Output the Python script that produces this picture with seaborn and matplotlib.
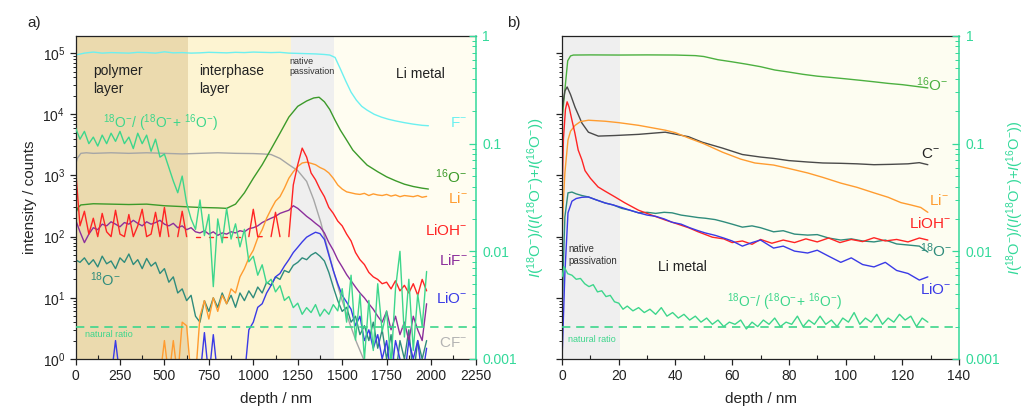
import numpy as np
import pandas as pd
import matplotlib
matplotlib.use("Agg")
import matplotlib.pyplot as plt
import seaborn as sns
from matplotlib.ticker import LogLocator, NullFormatter, MultipleLocator, FixedLocator

# ---------------- panel a: 0-2000 nm depth profile ----------------
depth_a = np.arange(0, 2000, 25)

ratio_a = [0.14, 0.11, 0.13, 0.10, 0.115, 0.095, 0.12, 0.10, 0.125, 0.105,
           0.13, 0.10, 0.115, 0.09, 0.125, 0.10, 0.12, 0.085, 0.11, 0.075,
           0.08, 0.06, 0.045, 0.035, 0.05, 0.028, 0.02, 0.016, 0.03, 0.014,
           0.022, 0.0047, 0.02, 0.012, 0.025, 0.013, 0.018, 0.011, 0.016, 0.008,
           0.009, 0.006, 0.0075, 0.005, 0.0055, 0.0042, 0.0048, 0.0035, 0.0038, 0.003,
           0.0033, 0.0026, 0.003, 0.0027, 0.0032, 0.0025, 0.0029, 0.0026, 0.0032, 0.0028,
           0.0045, 0.0022, 0.006, 0.0015, 0.004, 0.001, 0.0035, 0.0012, 0.005, 0.0018,
           0.0028, 0.0009, 0.0045, 0.01, 0.0016, 0.0055, 0.0012, 0.004, 0.002, 0.0065]

li_a = [0.5, 0.5, 0.5, 0.5, 0.5, 0.5, 0.5, 0.5, 0.5, 0.5,
        0.5, 0.5, 0.5, 0.5, 0.5, 0.5, 0.5, 0.5, 0.5, 0.5,
        2, 0.5, 2, 0.5, 4, 3.5, 0.5, 0.5, 5, 9,
        4.5, 10, 6, 11, 8, 14, 12, 22, 30, 45,
        60, 95, 130, 200, 280, 380, 450, 620, 900, 1150,
        1400, 1600, 1650, 1580, 1500, 1350, 1250, 1100, 900, 700,
        600, 540, 520, 500, 490, 510, 470, 500, 480, 470,
        490, 460, 480, 450, 470, 460, 450, 470, 440, 455]

lioh_a = [1300, 150, 260, 110, 200, 100, 240, 120, 100, 270,
          110, 100, 230, 100, 150, 280, 100, 110, 250, 100,
          300, 100, np.nan, 100, 260, 100, np.nan, 100, 100, np.nan,
          100, 100, np.nan, 100, 100, np.nan, 100, 100, np.nan, 100,
          280, 100, 100, np.nan, 100, 250, 100, np.nan, 100, 700,
          1500, 2800, 2000, 1100, 850, 600, 450, 300, 240, 180,
          150, 110, 85, 55, 42, 35, 26, 22, 20, 17,
          18, 14, 19, 13, 16, 12, 17, 11, 20, 13]

lif_a = [190, 120, 80, 110, 140, 130, 160, 150, 175, 160,
         145, 170, 160, 185, 165, 150, 175, 160, 170, 185,
         160, 150, 165, 140, 150, 130, 140, 120, 115, 125,
         110, 120, 105, 115, 110, 120, 115, 125, 120, 135,
         140, 150, 170, 185, 200, 215, 240, 255, 270, 320,
         290, 250, 215, 190, 165, 145, 115, 80, 60, 42,
         32, 24, 19, 15, 12, 10, 8, 6.5, 5, 4,
         6, 3, 5, 2.5, 4, 2, 5, 3, 2, 8]

lio_a = [0.5, 0.5, 0.5, 0.5, 0.5, 0.5, 0.5, 0.5, 0.5, 2,
         0.5, 0.5, 0.5, 0.5, 0.5, 0.5, 0.5, 0.5, 0.5, 0.5,
         0.5, 0.5, 0.5, 0.5, 0.5, 0.5, 0.5, 0.5, 0.5, 2.7,
         0.5, 2.5, 0.5, 0.5, 0.5, 0.5, 0.5, 0.5, 0.5, 3,
         4, 7, 8, 12, 16, 22, 25, 33, 42, 55,
         67, 82, 98, 108, 118, 112, 90, 50, 28, 17,
         11, 8.5, 6.5, 3.5, 5, 2, 3, 1.5, 2.5, 1,
         2, 0.5, 2, 1, 0.5, 2, 1, 2, 0.5, 1.5]

o18_a = [42, 38, 45, 35, 42, 32, 48, 36, 40, 30,
         45, 38, 52, 35, 42, 30, 44, 33, 38, 25,
         30, 18, 22, 12, 14, 9, 11, 5, 4, 9,
         6, 10, 7, 12, 8, 11, 7, 12, 9, 13,
         10, 15, 12, 18, 16, 22, 20, 28, 26, 34,
         38, 45, 42, 50, 55, 48, 40, 26, 15, 9,
         6, 7, 4, 5, 2.5, 3.5, 2, 4, 1.5, 3,
         1, 2.5, 0.5, 2, 1, 3, 0.5, 2, 1, 2]

f_depth = [0, 50, 100, 150, 200, 250, 300, 350, 400, 450, 500, 550, 600, 650,
           700, 750, 800, 850, 900, 950, 1000, 1050, 1100, 1150, 1200, 1250,
           1300, 1350, 1400, 1430, 1460, 1490, 1520, 1550, 1580, 1610, 1640,
           1680, 1720, 1760, 1800, 1850, 1900, 1950, 1985]
f_a = [0.93e5, 1.0e5, 1.04e5, 1.0e5, 1.02e5, 1.01e5, 1.0e5, 1.03e5, 1.02e5,
       1.0e5, 1.05e5, 1.01e5, 1.02e5, 1.0e5, 1.01e5, 1.03e5, 1.02e5, 1.01e5,
       1.03e5, 1.02e5, 1.04e5, 1.03e5, 1.02e5, 1.03e5, 1.0e5, 0.99e5, 0.98e5,
       0.97e5, 0.95e5, 0.93e5, 0.85e5, 5.5e4, 3.5e4, 2.3e4, 1.7e4, 1.35e4,
       1.17e4, 1.0e4, 9.0e3, 8.3e3, 7.8e3, 7.3e3, 6.9e3, 6.6e3, 6.5e3]

cf_depth = [0, 10, 30, 60, 100, 200, 300, 400, 500, 600, 700, 800, 900, 1000,
            1050, 1100, 1150, 1200, 1250, 1300, 1340, 1380, 1420, 1460, 1500,
            1540, 1580, 1620, 1660]
cf_a = [1500, 1900, 2300, 2350, 2300, 2350, 2300, 2350, 2300, 2250, 2300, 2350,
        2300, 2280, 2250, 2200, 1900, 1500, 1200, 800, 400, 170, 60, 22, 9,
        4, 1.9, 1.0, 0.5]

o16_depth = [0, 15, 30, 100, 200, 300, 400, 500, 600, 700, 800, 850, 900, 950,
             1000, 1050, 1100, 1150, 1200, 1250, 1300, 1340, 1370, 1400, 1430,
             1460, 1490, 1520, 1560, 1600, 1640, 1700, 1750, 1800, 1850, 1900,
             1950, 1985]
o16_a = [240, 300, 330, 345, 340, 335, 340, 320, 310, 300, 295, 290, 340, 520,
         900, 1500, 2700, 4900, 9000, 1.35e4, 1.65e4, 1.85e4, 1.9e4, 1.6e4,
         1.2e4, 8000, 5500, 4000, 2600, 1950, 1480, 1150, 950, 820, 720, 660,
         620, 600]

layers_a = [0, 630, 1210, 1455, 2250]
natural_ratio = 0.002

# ---------------- panel b: first 130 nm of the Li metal ----------------
o16_b_depth = [0, 1.0, 2.0, 3.0, 4.0, 10, 20, 30, 40, 47, 50, 55, 60, 65, 70,
               75, 80, 85, 90, 95, 100, 105, 110, 115, 120, 125, 129]
o16_b = [8e3, 2.5e4, 7.5e4, 9.0e4, 9.3e4, 9.35e4, 9.3e4, 9.35e4, 9.3e4, 9.1e4,
         8.8e4, 7.8e4, 7.2e4, 6.6e4, 6.0e4, 5.3e4, 4.9e4, 4.5e4, 4.2e4, 4.0e4,
         3.8e4, 3.6e4, 3.4e4, 3.2e4, 3.05e4, 2.85e4, 2.7e4]

c_b_depth = [0, 1, 1.8, 3, 4.6, 7, 9.3, 12.8, 18.7, 27, 36.4, 44.6, 49.4, 56.6,
             63.6, 70, 74.6, 80, 86.6, 92, 98.3, 104, 110, 116, 122, 126, 129]
c_b = [1.2e4, 2.4e4, 2.8e4, 2.1e4, 1.3e4, 7.2e3, 5.1e3, 4.4e3, 4.5e3, 4.7e3,
       5.1e3, 4.3e3, 3.5e3, 2.8e3, 2.2e3, 2.0e3, 1.9e3, 1.75e3, 1.66e3, 1.6e3,
       1.58e3, 1.55e3, 1.5e3, 1.52e3, 1.55e3, 1.62e3, 1.5e3]

li_b_depth = [0, 0.5, 1, 2.1, 3, 4.6, 6.5, 9.3, 15.2, 20, 27, 36.4, 40, 44.6,
              50, 56.6, 63, 68, 74.6, 80, 86.6, 92, 98.3, 104, 110, 115, 119.5,
              123, 126.5, 129]
li_b = [100, 400, 1100, 3800, 5300, 6600, 7600, 8000, 7700, 7300, 6600, 5500,
        5000, 4100, 3300, 2400, 1850, 1600, 1480, 1300, 1100, 930, 750, 640,
        520, 440, 360, 330, 300, 250]

lioh_b_depth = [0, 0.5, 1.2, 1.8, 2.5, 3.5, 4.5, 5.7, 7, 8.1, 10, 12.7, 15,
                18.7, 22, 27, 31, 36.4, 40, 44.6, 48, 53, 57, 60, 63.6, 67, 70,
                74, 78, 82, 86, 90, 94, 98, 102, 106, 110, 114, 118, 122, 126, 129]
lioh_b = [500, 4000, 1.2e4, 1.6e4, 1.3e4, 8e3, 5e3, 2.6e3, 1.8e3, 1.2e3, 900,
          650, 560, 445, 360, 270, 230, 187, 165, 140, 120, 98, 92, 80, 85, 75,
          90, 78, 88, 80, 92, 82, 95, 80, 90, 83, 96, 85, 90, 82, 95, 88]

ob_depth = [0, 0.5, 1.0, 2.1, 3.5, 5, 7, 9.3, 12, 15.2, 18, 21, 24, 27, 30, 33,
            36, 38.8, 42, 45, 48, 50.5, 54, 57, 60, 63.6, 67, 70, 74.6, 78, 82,
            86.6, 90, 94, 98.3, 102, 106, 110, 114, 118, 122, 126, 129]
o18_b = [5, 40, 210, 520, 535, 500, 470, 445, 400, 355, 330, 290, 270, 245, 250,
         240, 250, 245, 225, 215, 205, 200, 190, 175, 160, 143, 150, 140, 120,
         125, 110, 106, 108, 95, 88, 92, 85, 82, 88, 76, 73, 70, 56]
lio_b = [1, 5, 25, 245, 380, 420, 440, 445, 400, 355, 330, 300, 270, 245, 225,
         215, 195, 172, 160, 140, 125, 115, 105, 95, 85, 70, 80, 88, 65, 70, 58,
         54, 60, 48, 38, 45, 35, 32, 38, 28, 25, 19.5, 22]

ratio_b_depth = [0, 0.7, 2, 3.5, 5, 6.5, 8, 9.5, 11, 12.5, 14, 15.5, 17, 18.5,
                 20, 21.5, 23, 25, 27, 29, 31, 33, 35, 37, 39, 41, 43, 45, 47,
                 49, 51, 53, 55, 57, 59, 61, 63, 65, 67, 69, 71, 73, 75, 77, 79,
                 81, 83, 85, 87, 89, 91, 93, 95, 97, 99, 101, 103, 105, 107, 109,
                 111, 113, 115, 117, 119, 121, 123, 125, 127, 129]
ratio_b = [0.0058, 0.0072, 0.0062, 0.0060, 0.0055, 0.0056, 0.0050, 0.0047, 0.0049, 0.0042,
           0.0043, 0.0038, 0.0039, 0.0034, 0.0033, 0.0029, 0.0031, 0.0028, 0.0030, 0.0027,
           0.0029, 0.0026, 0.0030, 0.0025, 0.0027, 0.0024, 0.0026, 0.0023, 0.0025, 0.0022,
           0.0024, 0.0021, 0.0023, 0.0020, 0.0022, 0.0021, 0.0023, 0.0019, 0.0022, 0.0020,
           0.0023, 0.0021, 0.0024, 0.0020, 0.0022, 0.0021, 0.0025, 0.0020, 0.0023, 0.0021,
           0.0025, 0.0021, 0.0023, 0.0020, 0.0024, 0.0022, 0.0027, 0.0021, 0.0024, 0.0022,
           0.0026, 0.0021, 0.0024, 0.0022, 0.0026, 0.0023, 0.0025, 0.0020, 0.0024, 0.0022]

layers_b = [0, 20.5, 140]

# ---------------- styling ----------------
GREEN_AX = "#33d99a"
C_RATIO = "#3dd68c"
C_O16A = "#3c9a2a"
C_O16B = "#4cb040"
C_LI = "#ff9c30"
C_LIOH = "#ff2424"
C_LIF = "#8c2f9c"
C_LIO = "#3a3ae6"
C_O18 = "#2f8c7c"
C_CF = "#a6a6a6"
C_F = "#6cf0f0"
C_C = "#4a4a4a"

sns.set_theme(style="ticks")
plt.rcParams.update({
    "font.family": ["Liberation Sans", "DejaVu Sans"],
    "mathtext.fontset": "custom",
    "mathtext.rm": "Liberation Sans",
    "mathtext.it": "Liberation Sans:italic",
    "mathtext.bf": "Liberation Sans:bold",
    "font.size": 10,
    "axes.linewidth": 0.9,
    "axes.edgecolor": "#222222",
    "xtick.color": "#222222",
    "ytick.color": "#222222",
    "xtick.labelsize": 10,
    "ytick.labelsize": 10,
})

LW = 1.0
fig = plt.figure(figsize=(10.29, 4.08), dpi=100)
axa = fig.add_axes([0.0734, 0.1201, 0.3887, 0.7917])
axb = fig.add_axes([0.5462, 0.1201, 0.3858, 0.7917])


def line(ax, x, y, color, **kw):
    sns.lineplot(x=np.asarray(x, float), y=np.asarray(y, float), ax=ax,
                 color=color, lw=LW, sort=False, estimator=None, legend=False, **kw)


def frame(ax, xmax, major, minor, edges, shades, show_ylabels):
    ax.set_yscale("log")
    ax.set_xlim(0, xmax)
    ax.set_ylim(1, 10 ** 5.28)
    for a, b, c in zip(edges[:-1], edges[1:], shades):
        ax.axvspan(a, b, color=c, lw=0, zorder=0)
    ax.xaxis.set_major_locator(MultipleLocator(major))
    ax.xaxis.set_minor_locator(MultipleLocator(minor))
    ax.yaxis.set_major_locator(LogLocator(base=10, numticks=10))
    ax.yaxis.set_minor_locator(LogLocator(base=10, subs=np.arange(2, 10), numticks=20))
    ax.yaxis.set_minor_formatter(NullFormatter())
    ax.tick_params(axis="x", which="major", direction="out", length=4, width=0.9)
    ax.tick_params(axis="x", which="minor", direction="in", length=3, width=0.8)
    ax.tick_params(axis="y", which="major", direction="out", length=4, width=0.9,
                   labelleft=show_ylabels)
    ax.tick_params(axis="y", which="minor", direction="out", length=2.5, width=0.7)
    ax.spines["right"].set_visible(False)
    tw = ax.twinx()
    tw.set_yscale("log")
    tw.set_ylim(1e-3, 1)
    tw.yaxis.set_major_locator(FixedLocator([1e-3, 1e-2, 1e-1, 1]))
    tw.set_yticklabels(["0.001", "0.01", "0.1", "1"])
    tw.yaxis.set_minor_locator(LogLocator(base=10, subs=np.arange(2, 10), numticks=20))
    tw.yaxis.set_minor_formatter(NullFormatter())
    tw.tick_params(axis="y", which="major", direction="in", length=5, width=0.9,
                   color=GREEN_AX, labelcolor=GREEN_AX, pad=5)
    tw.tick_params(axis="y", which="minor", direction="in", length=3, width=0.7,
                   color=GREEN_AX)
    tw.spines["right"].set_color(GREEN_AX)
    tw.spines["right"].set_linewidth(1.1)
    for s in ("left", "top", "bottom"):
        tw.spines[s].set_visible(False)
    tw.axhline(natural_ratio, color=C_RATIO, lw=1.2, ls=(0, (5, 3.5)))
    return tw


RATIO_LABEL = r"$^{18}$O$^{-}$/ ($^{18}$O$^{-}$+ $^{16}$O$^{-}$)"
YR_LABEL = (r"$\mathit{I}$($^{18}$O$^{-}$)/($\mathit{I}$($^{18}$O$^{-}$)"
            r"+$\mathit{I}$($^{16}$O$^{-}$))")

# ---- panel a ----
twa = frame(axa, 2250, 250, 125, layers_a,
            ["#ebdaae", "#fdf4d2", "#efefef", "#fffdf1"], True)

line(axa, f_depth, f_a, C_F)
line(axa, cf_depth, cf_a, C_CF)
line(axa, o16_depth, o16_a, C_O16A)
line(axa, depth_a, o18_a, C_O18)
line(axa, depth_a, lif_a, C_LIF)
line(axa, depth_a, lio_a, C_LIO)
line(axa, depth_a, li_a, C_LI)

# LiOH- has missing points: draw each continuous run as its own unit
lioh_arr = np.asarray(lioh_a, float)
lioh_df = pd.DataFrame({"depth": depth_a, "counts": lioh_arr,
                        "run": np.cumsum(np.isnan(lioh_arr))}).dropna()
sns.lineplot(data=lioh_df, x="depth", y="counts", units="run", estimator=None,
             sort=False, color=C_LIOH, lw=LW, ax=axa, legend=False)

line(twa, depth_a, ratio_a, C_RATIO)

axa.set_xlabel("depth / nm", fontsize=11, labelpad=6)
axa.set_ylabel("intensity / counts", fontsize=11, labelpad=4)
twa.set_ylabel(YR_LABEL, fontsize=11, color=GREEN_AX, labelpad=6)

ta = axa.transAxes
axa.text(0.044, 0.912, "polymer\nlayer", transform=ta, fontsize=10, va="top",
         ha="left", linespacing=1.3, color="#222222")
axa.text(0.309, 0.912, "interphase\nlayer", transform=ta, fontsize=10, va="top",
         ha="left", linespacing=1.3, color="#222222")
axa.text(0.535, 0.935, "native\npassivation", transform=ta, fontsize=6.5, va="top",
         ha="left", linespacing=1.2, color="#333333")
axa.text(0.80, 0.882, "Li metal", transform=ta, fontsize=10, va="center",
         ha="left", color="#222222")
axa.text(0.068, 0.731, RATIO_LABEL, transform=ta, fontsize=10, va="center",
         ha="left", color=C_RATIO)
axa.text(0.036, 0.245, r"$^{18}$O$^{-}$", transform=ta, fontsize=10.5,
         va="center", ha="left", color=C_O18)
axa.text(0.024, 0.075, "natural ratio", transform=ta, fontsize=6.5,
         va="center", ha="left", color=C_RATIO)

for txt, yv, col in [(r"F$^{-}$", 7.2e3, C_F),
                     (r"$^{16}$O$^{-}$", 940, C_O16A),
                     (r"Li$^{-}$", 425, C_LI),
                     (r"LiOH$^{-}$", 128, C_LIOH),
                     (r"LiF$^{-}$", 40, C_LIF),
                     (r"LiO$^{-}$", 9.6, C_LIO),
                     (r"CF$^{-}$", 1.8, "#b4b4b4")]:
    axa.text(2205, yv, txt, fontsize=11, color=col, ha="right", va="center")

# ---- panel b ----
twb = frame(axb, 140, 20, 10, layers_b, ["#efefef", "#fdfdf1"], False)

line(axb, o16_b_depth, o16_b, C_O16B)
line(axb, c_b_depth, c_b, C_C)
line(axb, li_b_depth, li_b, C_LI)
line(axb, ob_depth, o18_b, C_O18)
line(axb, lioh_b_depth, lioh_b, C_LIOH)
line(axb, ob_depth, lio_b, C_LIO)
line(twb, ratio_b_depth, ratio_b, C_RATIO)

axb.set_xlabel("depth / nm", fontsize=11, labelpad=6)
axb.set_ylabel("")
twb.set_ylabel(YR_LABEL, fontsize=10.5, color=GREEN_AX, labelpad=3)

tb = axb.transAxes
axb.text(0.015, 0.355, "native\npassivation", transform=tb, fontsize=7, va="top",
         ha="left", linespacing=1.2, color="#333333")
axb.text(0.242, 0.285, "Li metal", transform=tb, fontsize=10, va="center",
         ha="left", color="#222222")
axb.text(0.015, 0.059, "natural ratio", transform=tb, fontsize=6.5,
         va="center", ha="left", color=C_RATIO)
axb.text(0.56, 0.176, RATIO_LABEL, transform=tb, fontsize=10, va="center",
         ha="center", color=C_RATIO)
for txt, xf, yf, col in [(r"$^{16}$O$^{-}$", 0.972, 0.848, C_O16B),
                         (r"C$^{-}$", 0.952, 0.635, "#222222"),
                         (r"Li$^{-}$", 0.975, 0.492, C_LI),
                         (r"LiOH$^{-}$", 0.982, 0.421, C_LIOH),
                         (r"$^{18}$O$^{-}$", 0.982, 0.334, C_O18),
                         (r"LiO$^{-}$", 0.982, 0.214, C_LIO)]:
    axb.text(xf, yf, txt, transform=tb, fontsize=11, color=col, ha="right",
             va="center")

fig.text(0.027, 0.944, "a)", fontsize=11, ha="left", va="center")
fig.text(0.493, 0.944, "b)", fontsize=11, ha="left", va="center")

fig.savefig("out.png", dpi=100)
